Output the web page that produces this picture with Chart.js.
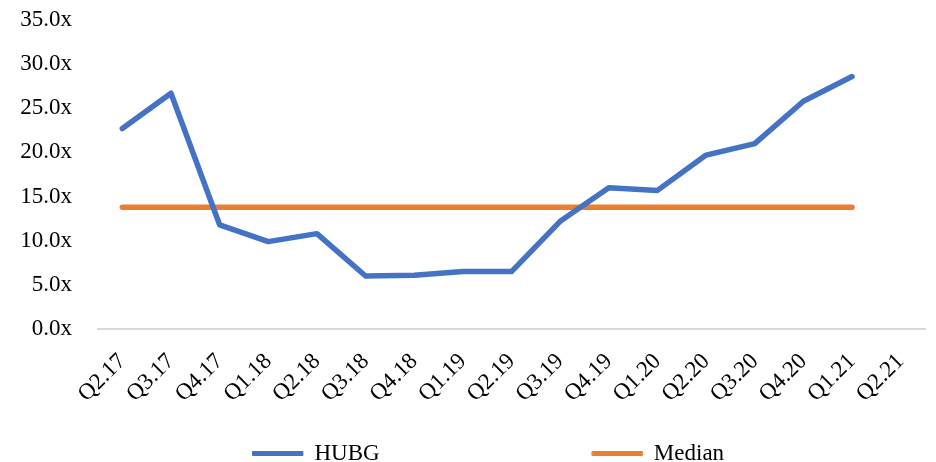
<!DOCTYPE html>
<html>
<head>
<meta charset="utf-8">
<script src="https://cdn.jsdelivr.net/npm/chart.js@4"></script>
<style>
  body { margin: 0; background: #fff; }
  #wrap { width: 936px; height: 462px; position: relative; }
</style>
</head>
<body>
<div id="wrap"><canvas id="myChart"></canvas></div>
<script>
const quarters = ['Q2.17', 'Q3.17', 'Q4.17', 'Q1.18', 'Q2.18', 'Q3.18', 'Q4.18', 'Q1.19', 'Q2.19',
    'Q3.19', 'Q4.19', 'Q1.20', 'Q2.20', 'Q3.20', 'Q4.20', 'Q1.21', 'Q2.21'];
const hubg = [22.7, 26.7, 11.8, 9.9, 10.8, 6.0, 6.1, 6.5, 6.5, 12.2, 16.0, 15.7, 19.7, 21.0, 25.8, 28.6];
const median = [13.8, 13.8, 13.8, 13.8, 13.8, 13.8, 13.8, 13.8, 13.8, 13.8, 13.8, 13.8, 13.8, 13.8, 13.8, 13.8];
const yTicks = [0, 5, 10, 15, 20, 25, 30, 35];

const serif = "'Book Antiqua', 'Palatino Linotype', Palatino, 'Liberation Serif', serif";
// spacing after each legend label, the legend in the picture is spread out
const legendGap = [37, 8];

const ctx = document.getElementById('myChart').getContext('2d');
const myChart = new Chart(ctx, {
    type: 'line',
    data: {
        labels: quarters,
        datasets: [{
            label: 'HUBG',
            data: hubg,
            borderColor: '#4472c4',
            backgroundColor: '#4472c4',
            borderWidth: 5.5,
            borderCapStyle: 'round',
            borderJoinStyle: 'round',
            pointRadius: 0,
            tension: 0
        }, {
            label: 'Median',
            data: median,
            borderColor: '#ed7d31',
            backgroundColor: '#ed7d31',
            borderWidth: 5.5,
            borderCapStyle: 'round',
            pointRadius: 0
        }]
    },
    options: {
        responsive: true,
        maintainAspectRatio: false,
        animation: false,
        layout: {
            padding: { left: 12, right: 0, top: 20, bottom: -13 }
        },
        plugins: {
            tooltip: { enabled: false },
            legend: {
                position: 'bottom',
                fullSize: false,
                labels: {
                    color: '#000',
                    font: { family: serif, size: 23 },
                    boxWidth: 50,
                    boxHeight: 4,
                    padding: 0,
                    generateLabels: (chart) => {
                        const items = Chart.defaults.plugins.legend.labels.generateLabels(chart);
                        items.forEach((it, i) => {
                            it.text = it.text + '\u00A0'.repeat(legendGap[i]);
                            it.lineWidth = 1;
                        });
                        return items;
                    }
                }
            }
        },
        scales: {
            x: {
                offset: true,
                grid: { display: false },
                border: { display: true, color: '#d9d9d9', width: 2 },
                ticks: {
                    color: '#000',
                    font: { family: serif, size: 23 },
                    minRotation: 45,
                    maxRotation: 45,
                    autoSkip: false,
                    padding: 11
                },
                afterFit: (scale) => {
                    scale.height = 113;
                    scale.paddingLeft = 0;
                    scale.paddingRight = 11;
                }
            },
            y: {
                min: 0,
                max: 35,
                afterBuildTicks: (axis) => {
                    axis.ticks = yTicks.map(v => ({ value: v }));
                },
                grid: { display: false },
                border: { display: false },
                ticks: {
                    color: '#000',
                    font: { family: serif, size: 23 },
                    padding: 18,
                    callback: (v) => v.toFixed(1) + 'x'
                },
                afterFit: (scale) => {
                    scale.width = 86;
                    scale.paddingTop = 0;
                    scale.paddingBottom = 0;
                }
            }
        }
    }
});
</script>
</body>
</html>
